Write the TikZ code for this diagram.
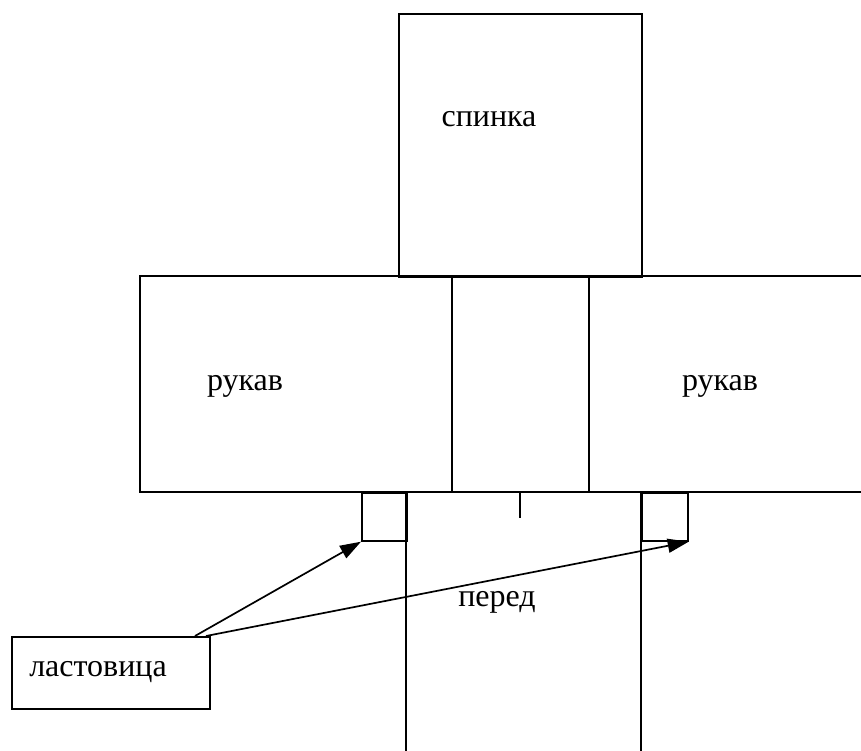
\documentclass[tikz,border=0pt]{standalone}
\usepackage{fontspec}
\setmainfont{Liberation Serif}
\usetikzlibrary{arrows.meta}
\begin{document}
\begin{tikzpicture}[x=1pt,y=-1pt,
  part/.style={draw,line width=1.7pt,line cap=rect},
  lbl/.style={font=\fontsize{32}{36}\selectfont,inner sep=0pt,anchor=base},
  piece/.style={draw,line width=1.7pt,inner sep=0pt,anchor=north west},
  pointer/.style={line width=1.7pt,-{Triangle[length=21pt,width=14pt]}}]
\useasboundingbox (0,0) rectangle (861,751);
% back
\node[piece,minimum width=243pt,minimum height=263pt] (back) at (398,13) {};
\node[lbl] (tback) at (489,127) {спинка};
% sleeve band
\draw[part] (861,276) -- (140,276) -- (140,492) -- (861,492);
\draw[part] (452,276) -- (452,492);
\draw[part] (589,276) -- (589,492);
\node[lbl] (tsl) at (245,390) {рукав};
\node[lbl] (tsr) at (720,390) {рукав};
% front
\draw[part] (406,492) -- (406,751);
\draw[part] (641,492) -- (641,751);
\draw[part] (520,492) -- (520,517);
\node[lbl] (tfront) at (497,606) {перед};
% gussets
\node[piece,minimum width=45pt,minimum height=48pt] (gl) at (361,492) {};
\node[piece,minimum width=46pt,minimum height=48pt] (gr) at (641,492) {};
% label box
\node[piece,minimum width=198pt,minimum height=72pt] (lb) at (11,636) {};
\node[lbl] (tlb) at (98,676) {ластовица};
\coordinate (s1) at (195,636);
\coordinate (s2) at (206,636);
\draw[pointer] (s1) -- (gl.south west);
\draw[pointer] (s2) -- (gr.south east);
\end{tikzpicture}
\end{document}
